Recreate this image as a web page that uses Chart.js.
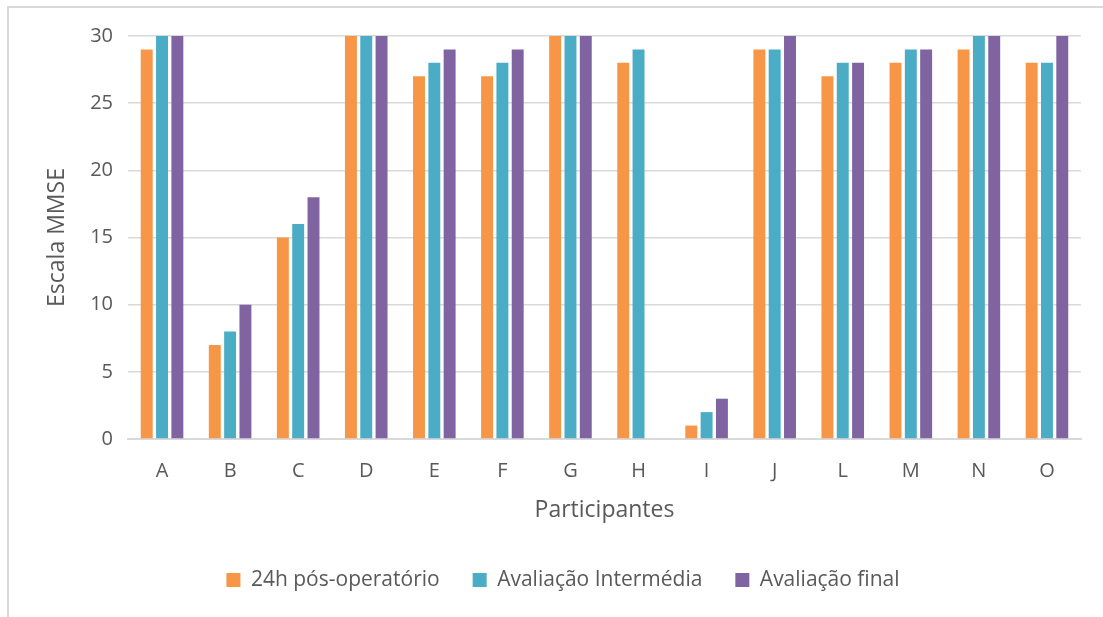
<!DOCTYPE html>
<html>
<head>
<meta charset="utf-8">
<script src="https://cdn.jsdelivr.net/npm/chart.js@4/dist/chart.umd.min.js"></script>
<style>
  html, body { margin: 0; padding: 0; background: #ffffff; }
  #wrap { position: relative; width: 1103px; height: 617px; overflow: hidden; }
  #frame { position: absolute; left: 7px; top: 6px; width: 1200px; height: 700px;
           border-left: 2px solid #d9d9d9; border-top: 2px solid #d9d9d9; }
  #chart { position: absolute; left: 0; top: 0; }
</style>
</head>
<body>
<div id="wrap">
  <div id="frame"></div>
  <canvas id="chart" width="1103" height="617"></canvas>
</div>
<script>
// Participants and MMSE scores at each assessment point
const participantes = ['A', 'B', 'C', 'D', 'E', 'F', 'G', 'H', 'I', 'J', 'L', 'M', 'N', 'O'];
const pos24h       = [29, 7, 15, 30, 27, 27, 30, 28, 1, 29, 27, 28, 29, 28];
const intermedia   = [30, 8, 16, 30, 28, 28, 30, 29, 2, 29, 28, 29, 30, 28];
const final        = [30, 10, 18, 30, 29, 29, 30, null, 3, 30, 28, 29, 30, 30];
const yTicks       = [0, 5, 10, 15, 20, 25, 30];

const FONT = "'Open Sans', sans-serif";
const TEXT = '#595959';
const GRID = '#d9d9d9';

new Chart(document.getElementById('chart'), {
  type: 'bar',
  data: {
    labels: participantes,
    datasets: [
      { label: '24h pós-operatório',   data: pos24h,     backgroundColor: '#f79646' },
      { label: 'Avaliação Intermédia', data: intermedia, backgroundColor: '#4bacc6' },
      { label: 'Avaliação final',      data: final,      backgroundColor: '#8064a2' }
    ]
  },
  options: {
    responsive: false,
    animation: false,
    layout: { padding: { left: 45, right: 22, top: 36, bottom: 16.5 } },
    datasets: { bar: { categoryPercentage: 0.675, barPercentage: 0.78 } },
    plugins: {
      tooltip: { enabled: false },
      legend: {
        position: 'bottom',
        labels: {
          boxWidth: 14, boxHeight: 14, padding: 33,
          color: TEXT, font: { family: FONT, size: 21 }
        }
      }
    },
    scales: {
      x: {
        grid: { display: false, drawTicks: false },
        border: { display: true, color: GRID, width: 2 },
        ticks: { color: TEXT, font: { family: FONT, size: 20 }, padding: 20 },
        title: { display: true, text: 'Participantes', color: TEXT,
                 font: { family: FONT, size: 23 }, padding: { top: 12.7, bottom: 12.7 } },
        afterFit(s) { s.height = 97.5; }
      },
      y: {
        min: 0, max: 30,
        afterBuildTicks(s) { s.ticks = yTicks.map(v => ({ value: v })); },
        grid: { color: GRID, lineWidth: 1.5, drawTicks: false },
        border: { display: false },
        ticks: { color: TEXT, font: { family: FONT, size: 20 }, padding: 15 },
        title: { display: true, text: 'Escala MMSE', color: TEXT,
                 font: { family: FONT, size: 23, lineHeight: 1 }, padding: { top: 1, bottom: 1 } },
        afterFit(s) { s.width = 83; }
      }
    }
  }
});
</script>
</body>
</html>
